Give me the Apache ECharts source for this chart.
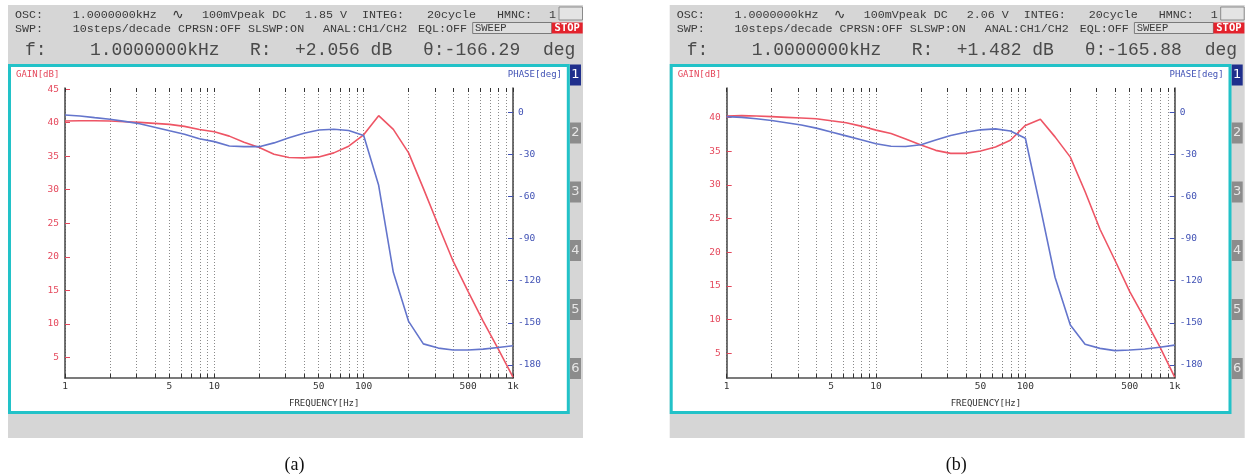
<!DOCTYPE html>
<html>
<head>
<meta charset="utf-8">
<script src="https://cdn.jsdelivr.net/npm/echarts@6/dist/echarts.min.js"></script>
<style>
  html, body { margin: 0; padding: 0; background: #ffffff; }
  #chart { width: 1250px; height: 476px; }
</style>
</head>
<body>
<div id="chart"></div>
<script>
// Sweep points: 10 steps/decade, 1 Hz .. 1 kHz
const freqHz = [1, 1.26, 1.58, 2, 2.51, 3.16, 3.98, 5.01, 6.31, 7.94,
  10, 12.6, 15.8, 20, 25.1, 31.6, 39.8, 50.1, 63.1, 79.4,
  100, 126, 158, 200, 251, 316, 398, 501, 631, 794, 1000];

// Measurement (a)
const gainA = [40.25, 40.3, 40.3, 40.25, 40.15, 40.05, 39.9, 39.75, 39.45, 39.0,
  38.65, 38.0, 37.1, 36.3, 35.3, 34.8, 34.75, 34.9, 35.5, 36.5,
  38.2, 41.05, 39.0, 35.5, 30.2, 24.7, 19.3, 14.8, 10.4, 6.3, 2.056];
const phaseA = [-1.9, -2.6, -3.8, -5.0, -6.5, -8.2, -10.6, -13.2, -15.6, -18.9,
  -20.9, -24.0, -24.5, -24.5, -21.8, -18.1, -14.9, -12.6, -12.1, -13.0,
  -16.5, -52, -114, -149, -165, -168, -169.3, -169.4, -168.7, -167.6, -166.29];

// Measurement (b)
const gainB = [40.2, 40.25, 40.2, 40.1, 40.0, 39.9, 39.8, 39.5, 39.2, 38.7,
  38.1, 37.6, 36.8, 35.9, 35.1, 34.65, 34.65, 35.0, 35.6, 36.6,
  38.8, 39.7, 37.1, 34.1, 29.0, 23.4, 18.8, 14.1, 10.1, 6.0, 1.482];
const phaseB = [-3.1, -3.6, -4.6, -5.9, -7.4, -9.1, -11.3, -14.1, -16.8, -19.6,
  -22.4, -24.2, -24.4, -23.1, -19.8, -16.5, -14.2, -12.5, -11.8, -13.3,
  -18.5, -67.8, -117.5, -151.6, -165.3, -168.2, -169.8, -169.4, -168.6, -167.4, -165.88];

// Axis ticks
const gridFreqs = [1, 2, 3, 4, 5, 6, 7, 8, 9, 10, 20, 30, 40, 50, 60, 70, 80, 90,
  100, 200, 300, 400, 500, 600, 700, 800, 900, 1000];
const freqLabelValues = [1, 5, 10, 50, 100, 500, 1000];
const freqLabelTexts = ['1', '5', '10', '50', '100', '500', '1k'];
const gainTicks = [5, 10, 15, 20, 25, 30, 35, 40, 45];
const phaseTicks = [0, -30, -60, -90, -120, -150, -180];

// Gain axis ranges of the two screens, phase range shared
const gainRangeA = [1.91, 45.18];
const gainRangeB = [1.34, 44.35];
const phaseRange = [-189.3, 17.3];

// Header readouts
const dcTexts = ['1.85 V', '2.06 V'];
const rTexts = ['+2.056 dB', '+1.482 dB'];
const thetaTexts = ['\u03b8:-166.29', '\u03b8:-165.88'];
const captions = ['(a)', '(b)'];
const tabNames = ['1', '2', '3', '4', '5', '6'];

const MONO = '"DejaVu Sans Mono", "Liberation Mono", monospace';
const HEAD = '"Liberation Mono", "DejaVu Sans Mono", monospace';
const RED = '#ee5565';
const BLUE = '#6475cc';
const RED_TXT = '#e5485c';
const BLUE_TXT = '#4152b5';

const log10 = Math.log10;
const gridLog = gridFreqs.map(log10);
const labelLog = freqLabelValues.map(log10);

function freqLabel(v) {
  const i = labelLog.findIndex(l => Math.abs(l - v) < 1e-6);
  return i >= 0 ? freqLabelTexts[i] : '';
}

const grids = [], xAxes = [], yAxes = [], series = [], graphics = [];

function txt(x, y, text, size, color, extra) {
  return {
    type: 'text', x: x, y: y, z: 20, silent: true,
    style: Object.assign({
      text: text, fill: color, fontSize: size, fontFamily: MONO,
      align: 'left', verticalAlign: 'middle',
      textAlign: 'left', textVerticalAlign: 'middle'
    }, extra || {})
  };
}

function buildPanel(i, dx, gain, phase, gainRange) {
  // Screen frame
  graphics.push({ type: 'rect', z: -10, silent: true,
    shape: { x: 8 + dx, y: 5, width: 575, height: 433 },
    style: { fill: '#d6d6d6' } });
  graphics.push({ type: 'rect', z: -9, silent: true,
    shape: { x: 9.5 + dx, y: 65.5, width: 558.8, height: 347 },
    style: { fill: '#ffffff', stroke: '#22c2c8', lineWidth: 3 } });

  // Side tabs
  const tabY = [64.5, 122.5, 181.5, 240, 299, 358];
  tabNames.forEach((name, t) => {
    graphics.push({ type: 'rect', z: -8, silent: true,
      shape: { x: 570 + dx, y: tabY[t], width: 11, height: 21 },
      style: { fill: t === 0 ? '#1f2f8c' : '#8c8c8c' } });
    graphics.push(txt(575.5 + dx, tabY[t] + 10.5, name, 13, t === 0 ? '#ffffff' : '#e6e6e6',
      { fontFamily: '"DejaVu Sans", sans-serif', align: 'center', textAlign: 'center' }));
  });

  // Header, line 1
  const c1 = '#3a3a3a';
  const h = { fontFamily: HEAD };
  graphics.push(txt(15 + dx, 15, 'OSC:', 11.7, c1, h));
  graphics.push(txt(72.7 + dx, 15, '1.0000000kHz', 11.7, c1, h));
  graphics.push(txt(172 + dx, 15, '\u223f', 14, c1, { fontFamily: '"DejaVu Sans", sans-serif' }));
  graphics.push(txt(202 + dx, 15, '100mVpeak DC', 11.7, c1, h));
  graphics.push(txt(305 + dx, 15, dcTexts[i], 11.7, c1, h));
  graphics.push(txt(362 + dx, 15, 'INTEG:', 11.7, c1, h));
  graphics.push(txt(427 + dx, 15, '20cycle', 11.7, c1, h));
  graphics.push(txt(497 + dx, 15, 'HMNC:', 11.7, c1, h));
  graphics.push(txt(549 + dx, 15, '1', 11.7, c1, h));
  graphics.push({ type: 'rect', z: 5, silent: true,
    shape: { x: 559 + dx, y: 7, width: 23.5, height: 13 },
    style: { fill: '#e4e4e4', stroke: '#8a8a8a', lineWidth: 1 } });

  // Header, line 2
  graphics.push(txt(15 + dx, 29, 'SWP:', 11.7, c1, h));
  graphics.push(txt(72.7 + dx, 29, '10steps/decade CPRSN:OFF SLSWP:ON', 11.7, c1, h));
  graphics.push(txt(323 + dx, 29, 'ANAL:CH1/CH2', 11.7, c1, h));
  graphics.push(txt(418 + dx, 29, 'EQL:OFF', 11.7, c1, h));
  graphics.push({ type: 'rect', z: 5, silent: true,
    shape: { x: 472.7 + dx, y: 22.5, width: 79, height: 11 },
    style: { fill: '#dedede', stroke: '#7a7a7a', lineWidth: 1 } });
  graphics.push(txt(475 + dx, 28.5, 'SWEEP', 10.5, c1, h));
  graphics.push({ type: 'rect', z: 5, silent: true,
    shape: { x: 551.7 + dx, y: 22.5, width: 31, height: 11 },
    style: { fill: '#e3222c' } });
  graphics.push(txt(567.2 + dx, 28.5, 'STOP', 10.5, '#ffffff',
    { align: 'center', textAlign: 'center', fontWeight: 'bold' }));

  // Header, line 3
  const c3 = '#4a4a4a';
  graphics.push(txt(25 + dx, 50, 'f:', 18, c3, h));
  graphics.push(txt(90 + dx, 50, '1.0000000kHz', 18, c3, h));
  graphics.push(txt(250 + dx, 50, 'R:', 18, c3, h));
  graphics.push(txt(295 + dx, 50, rTexts[i], 18, c3, h));
  graphics.push(txt(423 + dx, 50, thetaTexts[i], 18, c3, h));
  graphics.push(txt(543 + dx, 50, 'deg', 18, c3, h));

  // Axis titles
  graphics.push(txt(16 + dx, 75, 'GAIN[dB]', 9, RED_TXT));
  graphics.push(txt(562 + dx, 75, 'PHASE[deg]', 9, BLUE_TXT, { align: 'right', textAlign: 'right' }));
  graphics.push(txt(289 + dx, 404, 'FREQUENCY[Hz]', 9, '#333333'));

  // Caption
  graphics.push(txt(294.5 + dx, 465, captions[i], 18, '#111111',
    { fontFamily: '"Liberation Serif", "DejaVu Serif", serif', align: 'center', textAlign: 'center' }));

  // Plot area
  grids.push({ left: 65 + dx, top: 88, width: 448, height: 290, containLabel: false });

  const axisLine = { show: true, onZero: false, lineStyle: { color: '#505050', width: 1.6 } };
  xAxes.push({
    type: 'value', gridIndex: i, min: 0, max: 3, position: 'bottom',
    axisLine: axisLine,
    axisTick: { show: true, inside: true, length: 4, customValues: gridLog,
      lineStyle: { color: '#333333', width: 1 } },
    axisLabel: { customValues: labelLog, formatter: freqLabel, color: '#333333',
      fontSize: 9.5, fontFamily: MONO, margin: 4, showMinLabel: true, showMaxLabel: true },
    splitLine: { show: true, lineStyle: { color: '#8a8a8a', width: 1, type: [1, 2] } }
  });
  xAxes.push({
    type: 'value', gridIndex: i, min: 0, max: 3, position: 'top',
    axisLine: { show: false, onZero: false },
    axisTick: { show: true, inside: true, length: 4, customValues: gridLog,
      lineStyle: { color: '#333333', width: 1 } },
    axisLabel: { show: false },
    splitLine: { show: false }
  });
  yAxes.push({
    type: 'value', gridIndex: i, min: gainRange[0], max: gainRange[1], position: 'left',
    axisLine: axisLine,
    axisTick: { show: true, inside: true, length: 5, customValues: gainTicks,
      lineStyle: { color: RED_TXT, width: 1 } },
    axisLabel: { customValues: gainTicks, color: RED_TXT, fontSize: 9.5, fontFamily: MONO, margin: 6 },
    splitLine: { show: false }
  });
  yAxes.push({
    type: 'value', gridIndex: i, min: phaseRange[0], max: phaseRange[1], position: 'right',
    axisLine: axisLine,
    axisTick: { show: true, inside: true, length: 5, customValues: phaseTicks,
      lineStyle: { color: BLUE_TXT, width: 1 } },
    axisLabel: { customValues: phaseTicks, color: BLUE_TXT, fontSize: 9.5, fontFamily: MONO, margin: 5 },
    splitLine: { show: false }
  });

  series.push({
    name: 'GAIN', type: 'line', xAxisIndex: 2 * i, yAxisIndex: 2 * i,
    data: freqHz.map((f, k) => [log10(f), gain[k]]),
    showSymbol: false, smooth: false, z: 3,
    lineStyle: { color: RED, width: 1.6 }
  });
  series.push({
    name: 'PHASE', type: 'line', xAxisIndex: 2 * i, yAxisIndex: 2 * i + 1,
    data: freqHz.map((f, k) => [log10(f), phase[k]]),
    showSymbol: false, smooth: false, z: 4,
    lineStyle: { color: BLUE, width: 1.6 }
  });
}

buildPanel(0, 0, gainA, phaseA, gainRangeA);
buildPanel(1, 661.7, gainB, phaseB, gainRangeB);

const chart = echarts.init(document.getElementById('chart'), null, { renderer: 'canvas' });
chart.setOption({
  animation: false,
  backgroundColor: '#ffffff',
  textStyle: { fontFamily: MONO },
  grid: grids,
  xAxis: xAxes,
  yAxis: yAxes,
  series: series,
  graphic: { elements: graphics }
});
</script>
</body>
</html>
